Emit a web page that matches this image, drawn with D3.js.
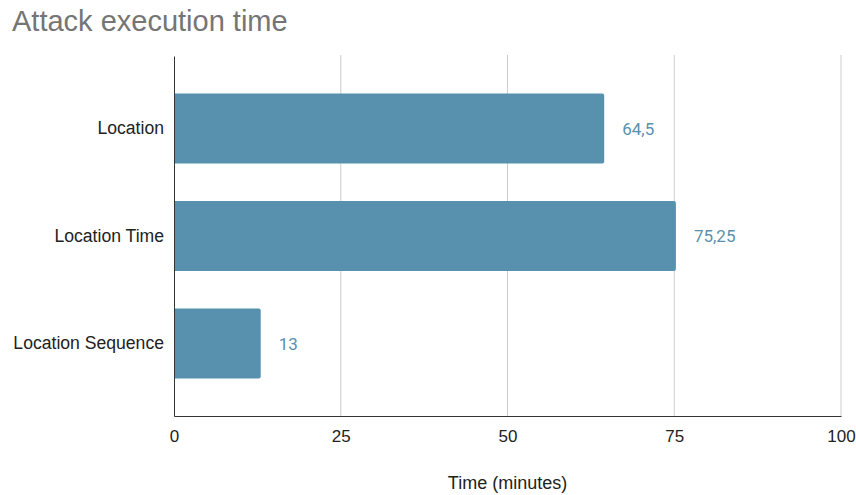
<!DOCTYPE html>
<html>
<head>
<meta charset="utf-8">
<script src="https://cdn.jsdelivr.net/npm/d3@7"></script>
<style>
  html, body { margin: 0; padding: 0; background: #fff; }
  svg { display: block; }
</style>
</head>
<body>
<svg id="chart" width="856" height="495"></svg>
<script>
// Attack execution time per method, in minutes
const categories = ["Location", "Location Time", "Location Sequence"];
const values = [64.5, 75.25, 13];
const valueLabels = ["64,5", "75,25", "13"];
const tickValues = [0, 25, 50, 75, 100];

const svg = d3.select("#chart");
const margin = { left: 174, right: 15, top: 55, bottom: 79 };
const W = 856, H = 495;

const x = d3.scaleLinear().domain([0, 100]).range([margin.left, W - margin.right]);
const y = d3.scaleBand().domain(categories).range([margin.top + 1, H - margin.bottom]).paddingInner(0.35).paddingOuter(0.35);

// Title
svg.append("text")
  .attr("x", 12).attr("y", 31)
  .attr("font-family", "Liberation Sans, Arial, sans-serif")
  .attr("font-size", 29)
  .attr("fill", "#757575")
  .text("Attack execution time");

// Vertical gridlines
svg.append("g").selectAll("line")
  .data(tickValues.filter(d => d > 0))
  .join("line")
  .attr("x1", d => x(d)).attr("x2", d => x(d))
  .attr("y1", margin.top).attr("y2", H - margin.bottom)
  .attr("stroke", "#cccccc").attr("stroke-width", 1);

// Bars with slightly rounded ends
const barColor = "#5891ad";
const r = 2;
svg.append("g").selectAll("path")
  .data(categories)
  .join("path")
  .attr("fill", barColor)
  .attr("d", (c, i) => {
    const x0 = x(0), x1 = x(values[i]);
    const y0 = y(c), h = y.bandwidth();
    return `M${x0},${y0} H${x1 - r} Q${x1},${y0} ${x1},${y0 + r} V${y0 + h - r} Q${x1},${y0 + h} ${x1 - r},${y0 + h} H${x0} Z`;
  });

// Value labels
svg.append("g").selectAll("text")
  .data(categories)
  .join("text")
  .attr("x", (c, i) => x(values[i]) + 18)
  .attr("y", c => y(c) + y.bandwidth() / 2)
  .attr("dy", "0.36em")
  .attr("font-family", "Roboto, sans-serif")
  .attr("font-size", 17)
  .attr("fill", barColor)
  .text((c, i) => valueLabels[i]);

// Category axis
const yAxis = svg.append("g")
  .attr("transform", `translate(${margin.left},0)`)
  .call(d3.axisLeft(y).tickSize(0).tickPadding(10));
yAxis.select(".domain").attr("stroke", "#333").attr("stroke-width", 1);
yAxis.selectAll("text")
  .attr("font-family", "Liberation Sans, Arial, sans-serif")
  .attr("font-size", 17.6)
  .attr("fill", "#222");

// Value axis
const xAxis = svg.append("g")
  .attr("transform", `translate(0,${H - margin.bottom})`)
  .call(d3.axisBottom(x).tickValues(tickValues).tickSize(0).tickPadding(14));
xAxis.select(".domain").attr("stroke", "#333").attr("stroke-width", 1.2);
xAxis.selectAll("text")
  .attr("font-family", "Liberation Sans, Arial, sans-serif")
  .attr("font-size", 17)
  .attr("fill", "#222");

// Axis title
svg.append("text")
  .attr("x", (x(0) + x(100)) / 2)
  .attr("y", 489)
  .attr("text-anchor", "middle")
  .attr("font-family", "Liberation Sans, Arial, sans-serif")
  .attr("font-size", 18)
  .attr("fill", "#222")
  .text("Time (minutes)");
</script>
</body>
</html>
